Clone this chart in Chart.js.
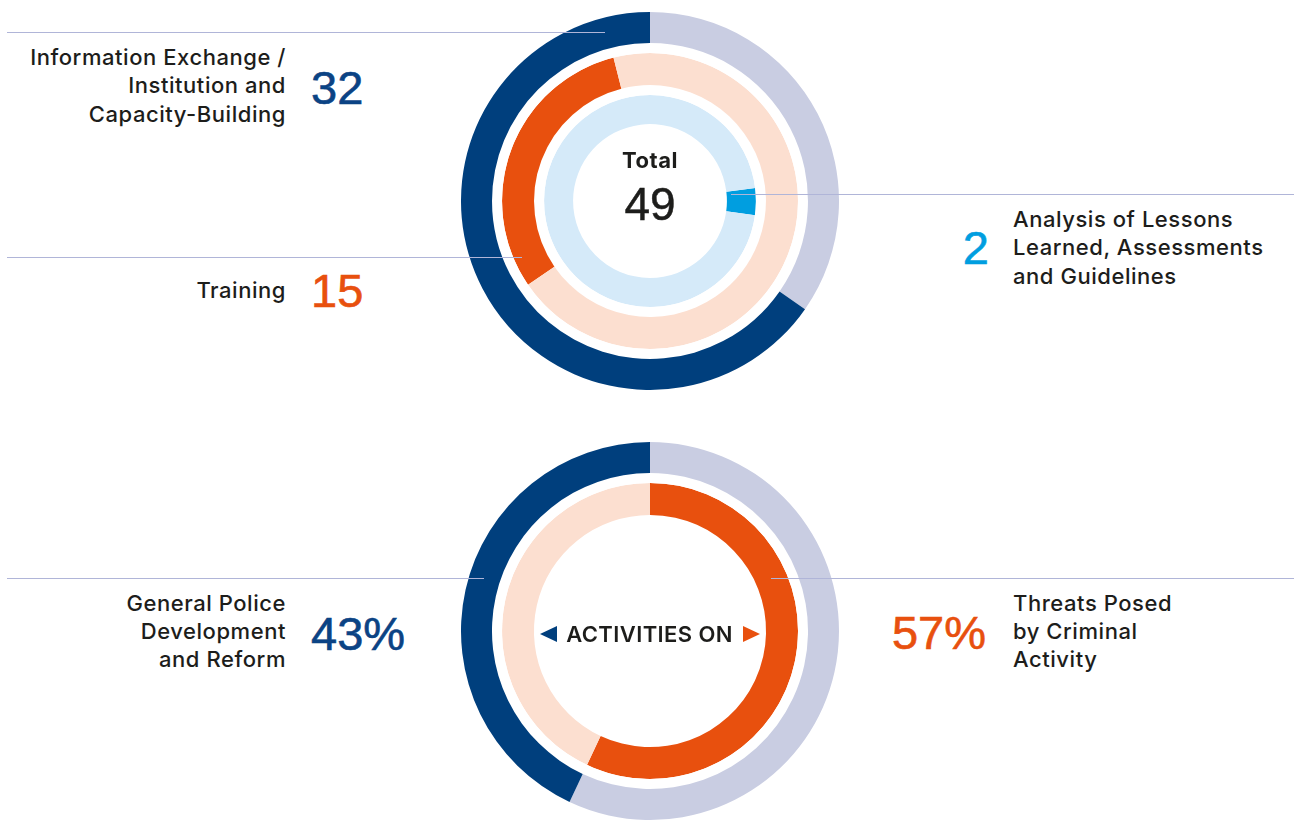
<!DOCTYPE html>
<html>
<head>
<meta charset="utf-8">
<title>Activities</title>
<script src="https://cdn.jsdelivr.net/npm/chart.js@4.4.1/dist/chart.umd.min.js"></script>
<style>
html, body { margin: 0; padding: 0; background: #fff; }
body { width: 1294px; height: 820px; position: relative; overflow: hidden;
       font-family: Inter, "Liberation Sans", sans-serif; color: #1d1d1b; }
canvas { position: absolute; left: 461px; }
.rule { position: absolute; height: 1px; background: #b0b5d8; z-index: 2; }
.label { position: absolute; font-size: 22px; line-height: 28.3px; font-weight: 500; letter-spacing: 0.55px; white-space: nowrap; }
.num { position: absolute; font-family: "Liberation Sans", Arial, sans-serif; font-size: 47px; line-height: 47px; white-space: nowrap; -webkit-text-stroke: 0.6px currentColor; }
.center { position: absolute; left: 550px; width: 200px; text-align: center; white-space: nowrap; }
.tri { display: inline-block; width: 0; height: 0; border-top: 8.5px solid transparent; border-bottom: 8.5px solid transparent; }
</style>
</head>
<body>
<canvas id="topChart" width="378" height="378" style="top:12px"></canvas>
<canvas id="focusChart" width="378" height="378" style="top:442px"></canvas>

<!-- leader lines -->
<div class="rule" style="left:7px; width:598px; top:32px"></div>
<div class="rule" style="left:7px; width:515px; top:257px"></div>
<div class="rule" style="left:731px; width:563px; top:194px"></div>
<div class="rule" style="left:7px; width:477px; top:578px"></div>
<div class="rule" style="left:771px; width:523px; top:578px"></div>

<div id="labelInfo" class="label" style="right:1008px; top:43px; text-align:right"></div>
<div id="numInfo" class="num" style="left:311px; top:63.5px; color:#0b4384"></div>
<div id="labelTraining" class="label" style="right:1008px; top:275.5px; text-align:right"></div>
<div id="numTraining" class="num" style="left:311px; top:267px; color:#e8500e"></div>
<div id="labelAnalysis" class="label" style="left:1013px; top:205px"></div>
<div id="numAnalysis" class="num" style="right:305px; top:224px; color:#009ee0"></div>

<div id="labelGeneral" class="label" style="right:1008px; top:588.5px; text-align:right"></div>
<div id="numGeneral" class="num" style="left:311px; top:610px; color:#0b4384"></div>
<div id="labelThreats" class="label" style="left:1013px; top:588.5px"></div>
<div id="numThreats" class="num" style="right:308px; top:609px; color:#e8500e"></div>

<div class="center" style="top:149px; font-size:22px; line-height:22px; font-weight:700; letter-spacing:0.5px">Total</div>
<div id="totalNum" class="center" style="top:181px; font-family:'Liberation Sans', Arial, sans-serif; font-size:46px; line-height:46px; -webkit-text-stroke:0.5px currentColor"></div>
<div class="center" style="left:500px; width:300px; top:625px; font-size:22px; line-height:18px; font-weight:600; letter-spacing:0.4px">
  <span class="tri" style="border-right:17px solid #003f7d; margin-right:9px"></span>ACTIVITIES ON<span class="tri" style="border-left:17px solid #e8500e; margin-left:10px"></span>
</div>

<script>
// Top ring: activities by type
const topCategories = [
    ['Information Exchange /', 'Institution and', 'Capacity-Building'],
    ['Training'],
    ['Analysis of Lessons', 'Learned, Assessments', 'and Guidelines']
];
const topValues = [32, 15, 2];
const topTotal = 49;

// Bottom ring: activities by focus (percent)
const focusCategories = [
    ['General Police', 'Development', 'and Reform'],
    ['Threats Posed', 'by Criminal', 'Activity']
];
const focusShares = [43, 57];

const NAVY = '#003f7d';
const GREY = '#c9cde2';
const ORANGE = '#e8500e';
const PEACH = '#fcdfd0';
const BLUE = '#009ee0';
const LIGHTBLUE = '#d5eaf9';

// Fill in the text labels
function setLines(id, lines) {
    document.getElementById(id).innerHTML = lines.join('<br>');
}
setLines('labelInfo', topCategories[0]);
setLines('labelTraining', topCategories[1]);
setLines('labelAnalysis', topCategories[2]);
setLines('labelGeneral', focusCategories[0]);
setLines('labelThreats', focusCategories[1]);
document.getElementById('numInfo').innerText = topValues[0];
document.getElementById('numTraining').innerText = topValues[1];
document.getElementById('numAnalysis').innerText = topValues[2];
document.getElementById('numGeneral').innerText = focusShares[0] + '%';
document.getElementById('numThreats').innerText = focusShares[1] + '%';
document.getElementById('totalNum').innerText = topTotal;

// white ring used as a gap between the rings
function spacer() {
    return { data: [1], backgroundColor: ['#ffffff'], weight: 10 };
}

const commonOptions = {
    responsive: false,
    animation: false,
    events: [],
    elements: { arc: { borderWidth: 0 } },
    hoverOffset: 0,
    layout: { padding: 0 },
    plugins: { legend: { display: false }, tooltip: { enabled: false } }
};

// Create the top chart
new Chart(document.getElementById('topChart').getContext('2d'), {
    type: 'doughnut',
    data: {
        datasets: [
            { data: [topTotal - topValues[0], topValues[0]], backgroundColor: [GREY, NAVY], weight: 31 },
            spacer(),
            { data: [topValues[1], topTotal - topValues[1]], backgroundColor: [ORANGE, PEACH], weight: 32, rotation: 235.5 },
            spacer(),
            { data: [topValues[2], topTotal - topValues[2]], backgroundColor: [BLUE, LIGHTBLUE], weight: 29, rotation: 83 }
        ]
    },
    options: Object.assign({ cutout: '40.7%' }, commonOptions)
});

// Create the bottom chart
new Chart(document.getElementById('focusChart').getContext('2d'), {
    type: 'doughnut',
    data: {
        datasets: [
            { data: [focusShares[1], focusShares[0]], backgroundColor: [GREY, NAVY], weight: 31 },
            spacer(),
            { data: [focusShares[1], focusShares[0]], backgroundColor: [ORANGE, PEACH], weight: 32 }
        ]
    },
    options: Object.assign({ cutout: '61.4%' }, commonOptions)
});
</script>
</body>
</html>
